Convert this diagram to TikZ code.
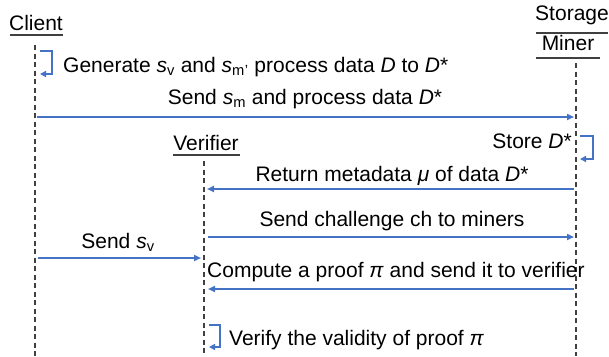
\documentclass[tikz,border=0pt]{standalone}
\usepackage{fontspec}
\setmainfont{Liberation Sans}
\usetikzlibrary{arrows.meta}
\definecolor{arrblue}{HTML}{4472C4}
\definecolor{lifegray}{HTML}{404040}
\tikzset{
  msg/.style={draw=arrblue, line width=2pt, -{Triangle[length=7pt,width=6pt]}},
  selfmsg/.style={draw=arrblue, line width=2pt, -{Triangle[length=6pt,width=6pt]}},
  lifeline/.style={draw=lifegray, line width=1.3pt, dash pattern=on 5pt off 3.5pt},
  uline/.style={draw=lifegray, line width=1.3pt},
  lbl/.style={anchor=base, inner sep=0pt, font=\fontsize{21}{25}\selectfont},
}
\newcommand{\sv}{\textit{s}\textsubscript{v}}
\newcommand{\smm}{\textit{s}\textsubscript{m}}
\begin{document}
\begin{tikzpicture}[x=1pt,y=-1pt]
\useasboundingbox (0,0) rectangle (609,356);
% actors
\node[lbl] (client) at (36,30) {Client};
\draw[uline] (10,35) -- (63,35);
\node[lbl] (storage) at (572,20) {Storage};
\draw[uline] (536,33) -- (608,33);
\node[lbl] (miner) at (568,50) {Miner};
\draw[uline] (536,58) -- (600,58);
\node[lbl] (verifier) at (206,150) {Verifier};
\draw[uline] (173,155) -- (240,155);
% lifelines
\coordinate (ct) at (35,45); \coordinate (cb) at (35,356);
\coordinate (mt) at (576,63); \coordinate (mb) at (576,356);
\coordinate (vt) at (204,161); \coordinate (vb) at (204,356);
\draw[lifeline] (ct) -- (cb);
\draw[lifeline] (mt) -- (mb);
\draw[lifeline] (vt) -- (vb);
% client self
\coordinate (cs1) at (40,51); \coordinate (cs2) at (40,74);
\draw[selfmsg] (cs1) -- ++(12,0) |- (cs2);
\node[lbl, anchor=base west] (gen) at (63,72) {Generate \sv{} and \smm\textsubscript{\textquoteright} process data \textit{D} to \textit{D}*};
% send s_m
\coordinate (c1) at (37,117); \coordinate (m1) at (574,117);
\draw[msg] (c1) -- (m1);
\node[lbl] (sendsm) at (305,104) {Send \smm{} and process data \textit{D}*};
% store
\node[lbl, anchor=base east] (store) at (572,148) {Store \textit{D}*};
\coordinate (ms1) at (580,136); \coordinate (ms2) at (580,159);
\draw[selfmsg] (ms1) -- ++(13,0) |- (ms2);
% return metadata
\coordinate (m2) at (574,189); \coordinate (v2) at (207,189);
\draw[msg] (m2) -- (v2);
\node[lbl] (ret) at (392,181) {Return metadata \textit{μ} of data \textit{D}*};
% challenge
\coordinate (v3) at (208,237); \coordinate (m3) at (574,237);
\draw[msg] (v3) -- (m3);
\node[lbl] (chal) at (392,226) {Send challenge ch to miners};
% send s_v
\coordinate (c4) at (38,258); \coordinate (v4) at (201,258);
\draw[msg] (c4) -- (v4);
\node[lbl] (sendsv) at (118,248) {Send \sv};
% compute proof
\node[lbl, anchor=base west] (comp) at (207,277) {Compute a proof \textit{π} and send it to verifier};
\coordinate (m5) at (574,289); \coordinate (v5) at (208,289);
\draw[msg] (m5) -- (v5);
% verify
\coordinate (vs1) at (209,325); \coordinate (vs2) at (209,347);
\draw[selfmsg] (vs1) -- ++(11,0) |- (vs2);
\node[lbl, anchor=base west] (verify) at (229,345) {Verify the validity of proof \textit{π}};
\end{tikzpicture}
\end{document}
